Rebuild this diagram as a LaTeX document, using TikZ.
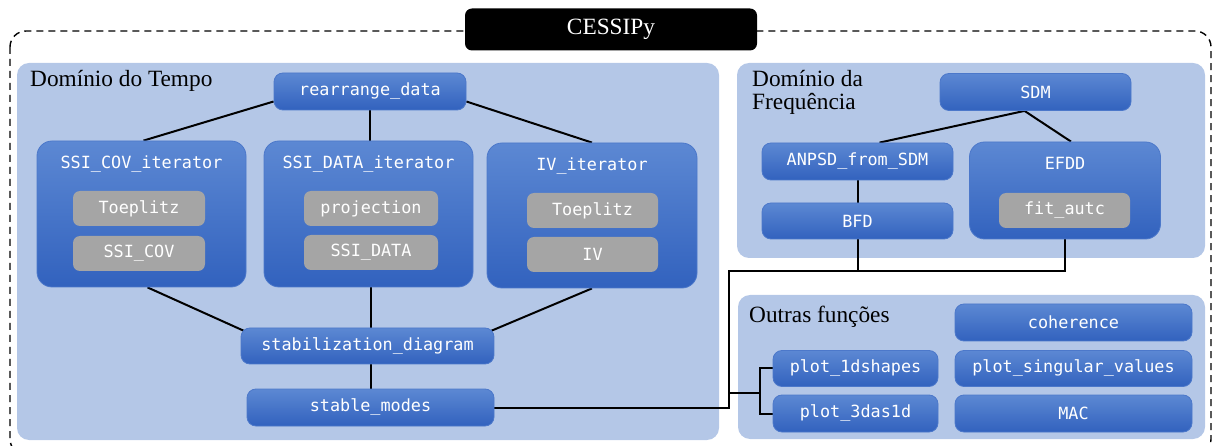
\documentclass[tikz,border=0pt]{standalone}
\usepackage{fontspec}
\setmainfont{Liberation Serif}
\newfontfamily\monof{DejaVu Sans Mono}
\usetikzlibrary{calc}
\pgfdeclarelayer{panels}
\pgfdeclarelayer{edges}
\pgfsetlayers{panels,edges,main}
\definecolor{panelc}{HTML}{B4C7E7}
\definecolor{ftop}{HTML}{5C88D3}
\definecolor{fbot}{HTML}{3262BE}
\definecolor{fborder}{HTML}{4C78CA}
\definecolor{grayc}{HTML}{A5A5A5}
\newcommand\serifbig{\fontsize{23.3}{28}\selectfont}
\newcommand\monotext{\monof\fontsize{16.8}{20}\selectfont}
\begin{document}
\begin{tikzpicture}[x=1pt,y=-1pt,
  fn/.style={draw=fborder, line width=0.8pt, top color=ftop, bottom color=fbot,
    rounded corners=9pt, text=white, font=\monotext, inner sep=0pt},
  cont/.style={fn, rounded corners=15pt},
  gr/.style={fill=grayc, rounded corners=7pt, text=white, font=\monotext, inner sep=0pt},
  ttl/.style={text=white, font=\monotext, inner sep=0pt},
  panel/.style={fill=panelc, rounded corners=12pt},
  conn/.style={line width=2pt, black},
  plabel/.style={anchor=base west, font=\serifbig, inner sep=0pt}]
\useasboundingbox (0,0) rectangle (1216,446);

% outer dashed frame
\draw[dash pattern=on 7pt off 5pt, line width=1.4pt, rounded corners=16pt] (10,31) rectangle (1211,455);

% panels
\begin{pgfonlayer}{panels}
\fill[panel] (17,63) rectangle (719,440);
\fill[panel] (737,63) rectangle (1205,258);
\fill[panel] (738,295) rectangle (1205,439);
\end{pgfonlayer}

% title
\node[fill=black, rounded corners=7pt, minimum width=292pt, minimum height=42pt,
  text=white, font=\serifbig, inner sep=0pt] (title) at (611,29.5) {CESSIPy};

% panel labels
\node[plabel] (lt) at (30,87) {Domínio do Tempo};
\node[plabel] (lf1) at (752,87) {Domínio da};
\node[plabel] (lf2) at (752,110) {Frequência};
\node[plabel] (lo) at (749,323) {Outras funções};

% time domain
\node[fn, minimum width=192pt, minimum height=37pt] (rearr) at (370,91.5) {rearrange\_data};

\node[cont, minimum width=209pt, minimum height=146pt] (ssicov) at (141.5,214) {};
\node[ttl] (ssicovt) at (141.5,164) {SSI\_COV\_iterator};
\node[gr, minimum width=132pt, minimum height=35pt] (toe1) at (139,208.5) {Toeplitz};
\node[gr, minimum width=132pt, minimum height=35pt] (ssicovf) at (139,253.5) {SSI\_COV};

\node[cont, minimum width=209pt, minimum height=146pt] (ssidata) at (368.5,214) {};
\node[ttl] (ssidatat) at (368.5,164) {SSI\_DATA\_iterator};
\node[gr, minimum width=134pt, minimum height=35pt] (proj) at (371,208.5) {projection};
\node[gr, minimum width=134pt, minimum height=35pt] (ssidataf) at (371,252.5) {SSI\_DATA};

\node[cont, minimum width=210pt, minimum height=145pt] (iv) at (592,215.5) {};
\node[ttl] (ivt) at (592,166) {IV\_iterator};
\node[gr, minimum width=131pt, minimum height=35pt] (toe2) at (592.5,210.5) {Toeplitz};
\node[gr, minimum width=131pt, minimum height=35pt] (ivf) at (592.5,254.5) {IV};

\node[fn, minimum width=253pt, minimum height=36pt] (stab) at (367.5,346) {stabilization\_diagram};
\node[fn, minimum width=247pt, minimum height=37pt] (sm) at (370.5,407.5) {stable\_modes};

% frequency domain
\node[fn, minimum width=191pt, minimum height=37pt] (sdm) at (1035.5,92) {SDM};
\node[fn, minimum width=191pt, minimum height=37pt] (anpsd) at (857.5,161.5) {ANPSD\_from\_SDM};
\node[fn, minimum width=191pt, minimum height=36pt] (bfd) at (857.5,221) {BFD};
\node[cont, minimum width=191pt, minimum height=97pt] (efdd) at (1065,190.5) {};
\node[ttl] (efddt) at (1065,163) {EFDD};
\node[gr, minimum width=131pt, minimum height=35pt] (fit) at (1064.5,210.5) {fit\_autc};

% other functions
\node[fn, minimum width=237pt, minimum height=37pt] (coh) at (1073.5,322.5) {coherence};
\node[fn, minimum width=237pt, minimum height=36pt] (psv) at (1073.5,368.5) {plot\_singular\_values};
\node[fn, minimum width=237pt, minimum height=37pt] (mac) at (1073.5,413.5) {MAC};
\node[fn, minimum width=165pt, minimum height=36pt] (p1) at (855.5,368.5) {plot\_1dshapes};
\node[fn, minimum width=165pt, minimum height=37pt] (p3) at (855.5,413.5) {plot\_3das1d};

% connectors
\begin{pgfonlayer}{edges}
\draw[conn] ($(rearr.west)+(0,10)$) -- ($(ssicov.north)+(2,0)$);
\draw[conn] (rearr.south) -- (rearr.south |- ssidata.north);
\draw[conn] ($(rearr.east)+(0,10)$) -- (iv.north);
\draw[conn] ($(ssicov.south)+(6,0)$) -- ($(stab.north west)+(5,4)$);
\draw[conn] (sm.north |- ssidata.south) -- (sm.north |- stab.north);
\draw[conn] (iv.south) -- ($(stab.north east)+(-5,4)$);
\draw[conn] (sm.north |- stab.south) -- (sm.north);

\draw[conn] ($(sdm.south)+(-11,0)$) -- ($(anpsd.north)+(22,0)$);
\draw[conn] ($(sdm.south)+(-11,0)$) -- ($(efdd.north)+(6,0)$);
\draw[conn] (anpsd.south) -- (bfd.north);

\coordinate (j1) at (729,271);
\coordinate (fork) at (760,393);
\draw[conn] (sm.east) -| (j1) -| (efdd.south);
\draw[conn] (bfd.south) -- (bfd.south |- j1);
\draw[conn] (j1 |- fork) -- (fork);
\draw[conn] (p1.west) -| (fork) |- (p3.west);
\end{pgfonlayer}
\end{tikzpicture}
\end{document}
